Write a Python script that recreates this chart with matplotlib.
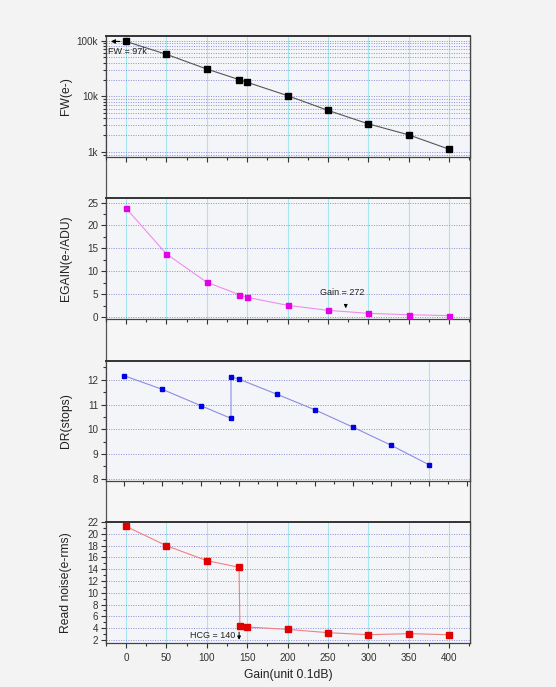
import numpy as np
import matplotlib
matplotlib.use("Agg")
import matplotlib.pyplot as plt
from matplotlib.ticker import FixedLocator, MultipleLocator, LogLocator, NullFormatter

plt.rcParams['font.family'] = ['Liberation Sans', 'DejaVu Sans']

# gain steps (unit 0.1 dB)
gain = [0, 50, 100, 140, 150, 200, 250, 300, 350, 400]
fw = [97000, 57000, 31000, 20000, 17900, 10300, 5600, 3200, 2030, 1120]
egain = [23.8, 13.8, 7.6, 4.9, 4.3, 2.55, 1.46, 0.8, 0.5, 0.3]

# DR and read noise include the LCG/HCG switch at 140
gain_dr = [0, 50, 100, 140, 140, 150, 200, 250, 300, 350, 400]
dr = [12.16, 11.61, 10.96, 10.44, 12.12, 12.03, 11.42, 10.79, 10.09, 9.36, 8.57]
gain_rn = [0, 50, 100, 140, 141, 150, 200, 250, 300, 350, 400]
read_noise = [21.27, 17.99, 15.45, 14.32, 4.37, 4.2, 3.8, 3.24, 2.9, 3.07, 2.9]

W, H = 556, 687
fig = plt.figure(figsize=(W / 100, H / 100), dpi=100, facecolor='#f3f3f3')

left = 105.7 / W
width = (470 - 105.7) / W
panels_px = [(35.7, 157.3), (198, 319.3), (360.7, 481.3), (521.7, 642.7)]

def rect(top, bot):
    return [left, 1 - bot / H, width, (bot - top) / H]

# outer frame joining the stacked layers
frame = fig.add_axes(rect(35.7, 642.7), zorder=0)
frame.set_facecolor('#f6f6f6')
frame.set_xticks([])
frame.set_yticks([])
frame.spines['top'].set_visible(False)
frame.spines['bottom'].set_visible(False)
for s in ('left', 'right'):
    frame.spines[s].set_color('#555555')
    frame.spines[s].set_linewidth(0.9)

hgrid = dict(color='#8c8cd8', linestyle=(0, (1, 1.5)), linewidth=0.7)
vgrid_color = '#a8e6ee'
axes = []
for top, bot in panels_px:
    ax = fig.add_axes(rect(top, bot), zorder=1)
    ax.set_facecolor('#f4f5f8')
    for s in ('left', 'bottom', 'right'):
        ax.spines[s].set_color('#444444')
        ax.spines[s].set_linewidth(0.9)
    ax.spines['top'].set_color('#333333')
    ax.spines['top'].set_linewidth(1.4)
    ax.tick_params(which='both', direction='out', colors='#333333', labelsize=7.1,
                   top=False, right=False, width=0.8)
    ax.tick_params(which='major', length=3.5, pad=2)
    ax.tick_params(which='minor', length=2)
    ax.set_axisbelow(True)
    axes.append(ax)

ax1, ax2, ax3, ax4 = axes
for ax in (ax1, ax2, ax4):
    ax.set_xlim(-25, 425.7)
    ax.xaxis.set_major_locator(MultipleLocator(50))
    ax.xaxis.set_minor_locator(MultipleLocator(25))
    for g in gain:
        if g % 50 == 0:
            ax.axvline(g, color=vgrid_color, lw=0.8, zorder=0)
ax3.set_xlim(-24.6, 454)
ax3.xaxis.set_major_locator(MultipleLocator(50))
ax3.xaxis.set_minor_locator(MultipleLocator(25))
ax3.axvline(400, color=vgrid_color, lw=0.8, zorder=0)
for ax in (ax1, ax2, ax3):
    ax.tick_params(axis='x', labelbottom=False)

label_kw = dict(fontsize=8.7, color='#222222')

# FW panel (log scale)
ax1.set_yscale('log')
ax1.set_ylim(803, 123000)
ax1.yaxis.set_major_locator(FixedLocator([1000, 10000, 100000]))
ax1.set_yticklabels(['1k', '10k', '100k'])
ax1.yaxis.set_minor_locator(LogLocator(base=10, subs=np.arange(2, 10)))
ax1.yaxis.set_minor_formatter(NullFormatter())
ax1.grid(axis='y', which='both', **hgrid)
ax1.plot(gain, fw, color='#555555', lw=0.8, marker='s', ms=4.2,
         mfc='black', mec='black', zorder=3)
ax1.annotate('', xy=(-22, 97000), xytext=(-4, 97000),
             arrowprops=dict(arrowstyle='-|>', color='black', lw=0.8, mutation_scale=6))
ax1.text(-22, 62700, 'FW = 97k', ha='left', va='center', fontsize=6.5, color='#222222')
ax1.set_ylabel('FW(e-)', **label_kw)

# EGAIN panel
ax2.set_ylim(-0.5, 26)
ax2.yaxis.set_major_locator(MultipleLocator(5))
ax2.yaxis.set_minor_locator(MultipleLocator(2.5))
ax2.grid(axis='y', which='major', **hgrid)
ax2.plot(gain, egain, color='#f08cf0', lw=0.8, marker='s', ms=3.6,
         mfc='#e600e6', mec='#e600e6', zorder=3)
ax2.annotate('', xy=(272, 1.3), xytext=(272, 3.2),
             arrowprops=dict(arrowstyle='-|>', color='black', lw=0.7, mutation_scale=5))
ax2.text(267, 5.25, 'Gain = 272', ha='center', va='center', fontsize=6.5, color='#222222')
ax2.set_ylabel('EGAIN(e-/ADU)', **label_kw)

# DR panel
ax3.set_ylim(7.9, 12.77)
ax3.yaxis.set_major_locator(MultipleLocator(1))
ax3.yaxis.set_minor_locator(MultipleLocator(0.5))
ax3.grid(axis='y', which='major', **hgrid)
ax3.plot(gain_dr, dr, color='#8c8ce6', lw=0.8, marker='s', ms=3.0,
         mfc='#0000e0', mec='#0000e0', zorder=3)
ax3.set_ylabel('DR(stops)', **label_kw)

# Read noise panel
ax4.set_ylim(1.54, 22.05)
ax4.yaxis.set_major_locator(MultipleLocator(2))
ax4.yaxis.set_minor_locator(MultipleLocator(1))
ax4.grid(axis='y', which='major', **hgrid)
ax4.plot(gain_rn, read_noise, color='#f08080', lw=0.8, marker='s', ms=3.8,
         mfc='#e00000', mec='#e00000', zorder=3)
ax4.annotate('', xy=(140, 1.56), xytext=(140, 3.8),
             arrowprops=dict(arrowstyle='-|>', color='black', lw=0.7, mutation_scale=5))
ax4.text(135, 2.68, 'HCG = 140', ha='right', va='center', fontsize=6.5, color='#222222')
ax4.set_ylabel('Read noise(e-rms)', **label_kw)
ax4.set_xlabel('Gain(unit 0.1dB)', labelpad=4, **label_kw)
ax4.tick_params(axis='x', pad=4)

lx = (72 - 105.7) / (470 - 105.7)
for ax in axes:
    ax.yaxis.set_label_coords(lx, 0.5)

fig.savefig('out.png', dpi=100, facecolor=fig.get_facecolor())
